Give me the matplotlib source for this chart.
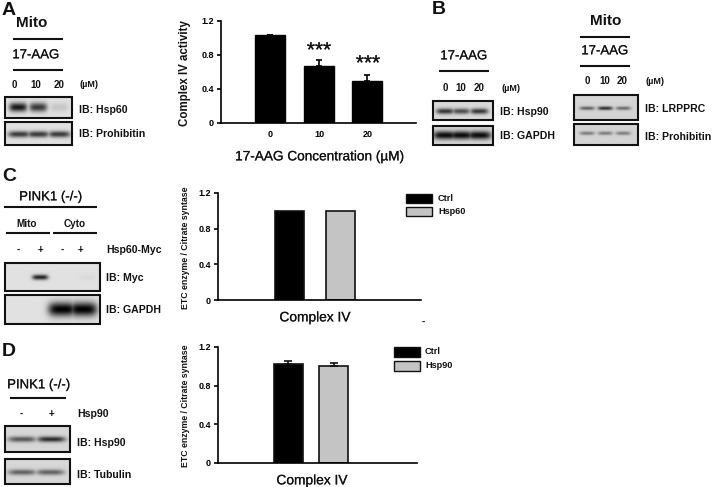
import numpy as np
import matplotlib
matplotlib.use('Agg')
import matplotlib.pyplot as plt
import matplotlib.patheffects as pe
from matplotlib.patches import Rectangle

plt.rcParams['font.family'] = ['Liberation Sans', 'DejaVu Sans']

W, H = 713, 487

# panel A bars
conc_labels = ['0', '10', '20']
complex4_activity = [1.03, 0.67, 0.49]
complex4_err = [0.01, 0.07, 0.07]

# panel C / D bars
hsp60_groups = ['Ctrl', 'Hsp60']
hsp60_values = [1.0, 1.0]
hsp90_groups = ['Ctrl', 'Hsp90']
hsp90_values = [1.02, 1.0]
hsp90_err = [0.035, 0.03]

y_ticks = [0, 0.4, 0.8, 1.2]
y_tick_labels = ['0', '0.4', '0.8', '1.2']

# band strengths on the blots, 0 = nothing, 1 = black
a_hsp60 = [0.9, 0.75, 0.12]
a_prohibitin = [0.75, 0.75, 0.75]
b_hsp90 = [0.75, 0.65, 0.75]
b_gapdh = [0.95, 0.95, 0.95]
b_lrpprc = [0.55, 0.8, 0.5]
b_prohibitin = [0.42, 0.42, 0.42]
c_myc = [0.0, 0.85, 0.0, 0.03]
c_gapdh = [0.0, 0.0, 1.0, 1.0]
d_hsp90 = [0.6, 0.8]
d_tubulin = [0.55, 0.55]

fig = plt.figure(figsize=(W / 100, H / 100), dpi=100)

ov = fig.add_axes([0, 0, 1, 1])
ov.axis('off')


def txt(x, y, s, size=7.6, weight='bold', ha='left'):
    # va center sits a bit high because of the descent, so push it down
    t = ov.text(x, y + 0.14 * size, s, fontsize=size, fontweight=weight, ha=ha, va='center',
                color='#111111')
    if weight == 'normal':
        t.set_path_effects([pe.withStroke(linewidth=0.15, foreground='#333333')])


def rule(x0, x1, y, lw=1.5):
    ov.plot([x0, x1], [y, y], color='#111111', lw=lw, solid_capstyle='butt')


def blot(x0, x1, y0, y1, lanes, levels, yc, bw=9, bh=3, bg=0.86):
    xs = np.arange(x0, x1, 0.5)
    ys = np.arange(y0, y1, 0.5)
    xx, yy = np.meshgrid(xs, ys)
    dark = np.zeros_like(xx)
    for lane, level in zip(lanes, levels):
        d = np.exp(-((xx - lane) / bw) ** 4 - ((yy - yc) / bh) ** 2)
        dark = np.maximum(dark, level * d)
    img = bg * (1 - dark)
    ov.imshow(img, extent=[x0, x1, y1, y0], cmap='gray', vmin=0, vmax=1, aspect='auto',
              interpolation='bilinear')
    ov.add_patch(Rectangle((x0, y0), x1 - x0, y1 - y0, fill=False, ec='#111111', lw=1.5))


def bar_axes(x0, x1, ytop, ybase, ymax=1.2):
    ax = fig.add_axes([x0 / W, 1 - ybase / H, (x1 - x0) / W, (ybase - ytop) / H])
    ax.patch.set_alpha(0)
    ax.set_xlim(x0, x1)
    ax.set_ylim(0, ymax)
    ax.spines['top'].set_visible(False)
    ax.spines['right'].set_visible(False)
    ax.spines['left'].set_linewidth(1.2)
    ax.spines['bottom'].set_linewidth(1.2)
    ax.set_yticks(y_ticks)
    ax.set_yticklabels(y_tick_labels, fontsize=6.5, fontweight='bold')
    ax.tick_params(axis='y', length=3, width=1.2, pad=2)
    return ax


# ---- panel A
txt(2, 9, 'A', 14, 'bold')
txt(32, 21, 'Mito', 11, 'bold', 'center')
rule(13, 63, 39)
txt(36, 54, '17-AAG', 9.5, 'normal', 'center')
rule(13, 63, 70)
for x, s in zip([14, 36, 59], conc_labels):
    txt(x, 84, s, 7, 'bold', 'center')
txt(79, 84, '(µM)', 6.5)
blot(5, 72, 97, 118, [18, 38, 59], a_hsp60, 107, bw=9, bh=4.5, bg=0.88)
blot(5, 72, 122, 145, [19, 38, 59], a_prohibitin, 134, bw=11, bh=3.2, bg=0.88)
txt(79, 109, 'IB: Hsp60')
txt(79, 133, 'IB: Prohibitin')

ax = bar_axes(221, 416, 21, 123)
ax.bar([269.5, 318.5, 367], complex4_activity, width=30, color='black', edgecolor='black',
       yerr=[[0, 0, 0], complex4_err], ecolor='black', capsize=2,
       error_kw={'elinewidth': 1.2, 'capthick': 1.2})
ax.set_xticks([270, 319, 368])
ax.set_xticklabels(conc_labels, fontsize=6.5, fontweight='bold')
ax.tick_params(axis='x', length=0, pad=5)
ov.text(185, 73, 'Complex IV activity', rotation=90, fontsize=8.3, fontweight='bold',
        ha='center', va='center', color='#111111')
txt(320, 155, '17-AAG Concentration (µM)', 9.8, 'normal', 'center')
for x, y in zip([319, 368], [49, 62]):
    txt(x, y, '***', 15, 'normal', 'center')

# ---- panel B
txt(432, 8, 'B', 14, 'bold')
txt(464, 55, '17-AAG', 9.5, 'normal', 'center')
rule(439, 489, 70.5)
for x, s in zip([445, 461, 479], conc_labels):
    txt(x, 87, s, 7, 'bold', 'center')
txt(501, 88, '(µM)', 6.5)
blot(433, 493, 101, 120, [445, 461, 479], b_hsp90, 111, bw=9, bh=2.8, bg=0.85)
blot(433, 493, 126, 145, [445, 461, 479], b_gapdh, 135, bw=12, bh=4.2, bg=0.85)
txt(500, 111, 'IB: Hsp90')
txt(500, 135, 'IB: GAPDH')

txt(606, 19, 'Mito', 11, 'bold', 'center')
rule(580, 630, 36.5)
txt(605, 50, '17-AAG', 9.5, 'normal', 'center')
rule(580, 630, 66)
for x, s in zip([587, 605, 622], conc_labels):
    txt(x, 80, s, 7, 'bold', 'center')
txt(645, 81, '(µM)', 6.5)
blot(574, 638, 95, 120, [587, 605, 623], b_lrpprc, 108, bw=7.5, bh=1.8, bg=0.83)
blot(574, 638, 124, 145, [587, 605, 623], b_prohibitin, 133, bw=7.5, bh=1.8, bg=0.83)
txt(645, 108, 'IB: LRPPRC')
txt(645, 136, 'IB: Prohibitin')

# ---- panel C
txt(2, 175, 'C', 14, 'bold')
txt(51, 196, 'PINK1 (-/-)', 9.5, 'normal', 'center')
rule(4, 97, 207)
txt(27, 223, 'Mito', 7.2, 'bold', 'center')
txt(75, 223, 'Cyto', 7.2, 'bold', 'center')
rule(6, 50, 233)
rule(53, 97, 233)
for x, s in zip([18, 40, 62, 80], ['-', '+', '-', '+']):
    txt(x, 249, s, 7, 'bold', 'center')
txt(106, 249, 'Hsp60-Myc')
blot(5, 100, 263, 291, [18, 40, 62, 87], c_myc, 277, bw=8, bh=2.6, bg=0.88)
blot(5, 100, 295, 324, [18, 40, 62, 83], c_gapdh, 309, bw=14, bh=7, bg=0.88)
txt(106, 277, 'IB: Myc')
txt(106, 309, 'IB: GAPDH')

ax = bar_axes(218, 421, 193, 300)
ax.bar([289, 340.5], hsp60_values, width=29, color=['black', '#c4c4c4'], edgecolor='#111111', lw=1.2)
ax.set_xticks([])
ov.text(186, 248, 'ETC enzyme / Citrate syntase', rotation=90, fontsize=6.3, fontweight='bold',
        ha='center', va='center', color='#111111')
txt(315, 316, 'Complex IV', 9.9, 'normal', 'center')
txt(423, 321, '-', 7, 'bold', 'center')

ov.add_patch(Rectangle((406, 194), 26, 9, fc='black', ec='#111111', lw=1))
ov.add_patch(Rectangle((406, 207), 26, 9, fc='#c4c4c4', ec='#111111', lw=1))
for y, s in zip([198, 211], hsp60_groups):
    txt(438, y, s, 6.6)

# ---- panel D
txt(2, 350, 'D', 14, 'bold')
txt(39, 384, 'PINK1 (-/-)', 9.5, 'normal', 'center')
rule(10, 66, 398)
for x, s in zip([21, 51], ['-', '+']):
    txt(x, 413, s, 7, 'bold', 'center')
txt(77, 413, 'Hsp90')
blot(5, 70, 426, 452, [22, 51], d_hsp90, 439, bw=14, bh=2.8, bg=0.84)
blot(5, 70, 459, 484, [22, 50], d_tubulin, 472, bw=14, bh=2.8, bg=0.84)
txt(77, 442, 'IB: Hsp90')
txt(77, 474, 'IB: Tubulin')

ax = bar_axes(218, 417, 347, 463)
ax.bar([288, 333.5], hsp90_values, width=29, color=['black', '#c4c4c4'], edgecolor='#111111', lw=1.2,
       yerr=[[0, 0], hsp90_err], ecolor='#111111', capsize=3,
       error_kw={'elinewidth': 1.2, 'capthick': 1.2})
ax.set_xticks([])
ov.text(186, 406, 'ETC enzyme / Citrate syntase', rotation=90, fontsize=6.3, fontweight='bold',
        ha='center', va='center', color='#111111')
txt(312, 479, 'Complex IV', 9.9, 'normal', 'center')

ov.add_patch(Rectangle((394, 347), 26, 10, fc='black', ec='#111111', lw=1))
ov.add_patch(Rectangle((394, 361), 26, 9.5, fc='#c4c4c4', ec='#111111', lw=1))
for y, s in zip([351, 365], hsp90_groups):
    txt(425, y, s, 6.6)

ov.set_xlim(0, W)
ov.set_ylim(H, 0)

plt.savefig('out.png', dpi=100)
plt.close(fig)
